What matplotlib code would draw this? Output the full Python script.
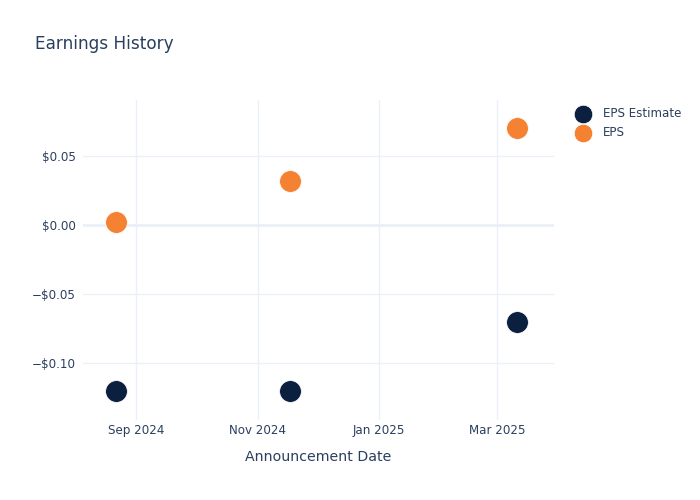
import matplotlib
matplotlib.use("Agg")
import matplotlib.pyplot as plt
import matplotlib.dates as mdates
from matplotlib.ticker import FuncFormatter
import datetime as dt

dates = ["2024-08-22", "2024-11-17", "2025-03-11"]
eps_estimate = [-0.12, -0.12, -0.07]
eps_actual = [0.002, 0.032, 0.07]
series_names = ["EPS Estimate", "EPS"]

TXT = "#2a3f5f"
GRID = "#EBF0F8"
NAVY = "#0b1f3f"
ORANGE = "#f58232"

plt.rcParams['font.family'] = ['DejaVu Sans']
x = [dt.datetime.strptime(d, "%Y-%m-%d") for d in dates]

fig = plt.figure(figsize=(7, 5), dpi=100)
ax = fig.add_axes([83/700, 80/500, (554-83)/700, 320/500])

ax.scatter(x, eps_estimate, s=245, color=NAVY, label=series_names[0], zorder=3, edgecolors='white', linewidths=0.5)
ax.scatter(x, eps_actual, s=245, color=ORANGE, label=series_names[1], zorder=3, edgecolors='white', linewidths=0.5)

ax.set_xlim(dt.datetime(2024, 8, 5, 8), dt.datetime(2025, 3, 29, 16))
ax.set_ylim(-0.1413, 0.0906)

ax.xaxis.set_major_locator(mdates.MonthLocator(bymonth=[1, 3, 5, 7, 9, 11]))
ax.xaxis.set_major_formatter(mdates.DateFormatter("%b %Y"))
ax.set_yticks([-0.10, -0.05, 0.0, 0.05])

def fmt(v, pos):
    s = "${:.2f}".format(abs(v))
    return ("\u2212" + s) if v < -1e-9 else s
ax.yaxis.set_major_formatter(FuncFormatter(fmt))

for sp in ax.spines.values():
    sp.set_visible(False)
ax.grid(True, color=GRID, linewidth=1, zorder=0)
ax.axhline(0, color=GRID, linewidth=2, zorder=1)
ax.set_axisbelow(True)
ax.tick_params(axis='both', length=0, colors=TXT, labelsize=8.6)
ax.tick_params(axis='x', pad=3)
ax.tick_params(axis='y', pad=5)

ax.set_xlabel("Announcement Date", color=TXT, fontsize=10.2, labelpad=9.5)

fig.text(35/700, 1 - 44/500, "Earnings History", color=TXT, fontsize=12.2, va='center', ha='left')

leg = fig.legend(loc='upper left', bbox_to_anchor=(571/700, 1 - 101/500), frameon=False,
                 fontsize=8.6, handletextpad=1.15, borderpad=0, labelspacing=0.5,
                 handlelength=1.0, markerscale=0.85)
for t in leg.get_texts():
    t.set_color(TXT)

fig.savefig("out.png", dpi=100)
